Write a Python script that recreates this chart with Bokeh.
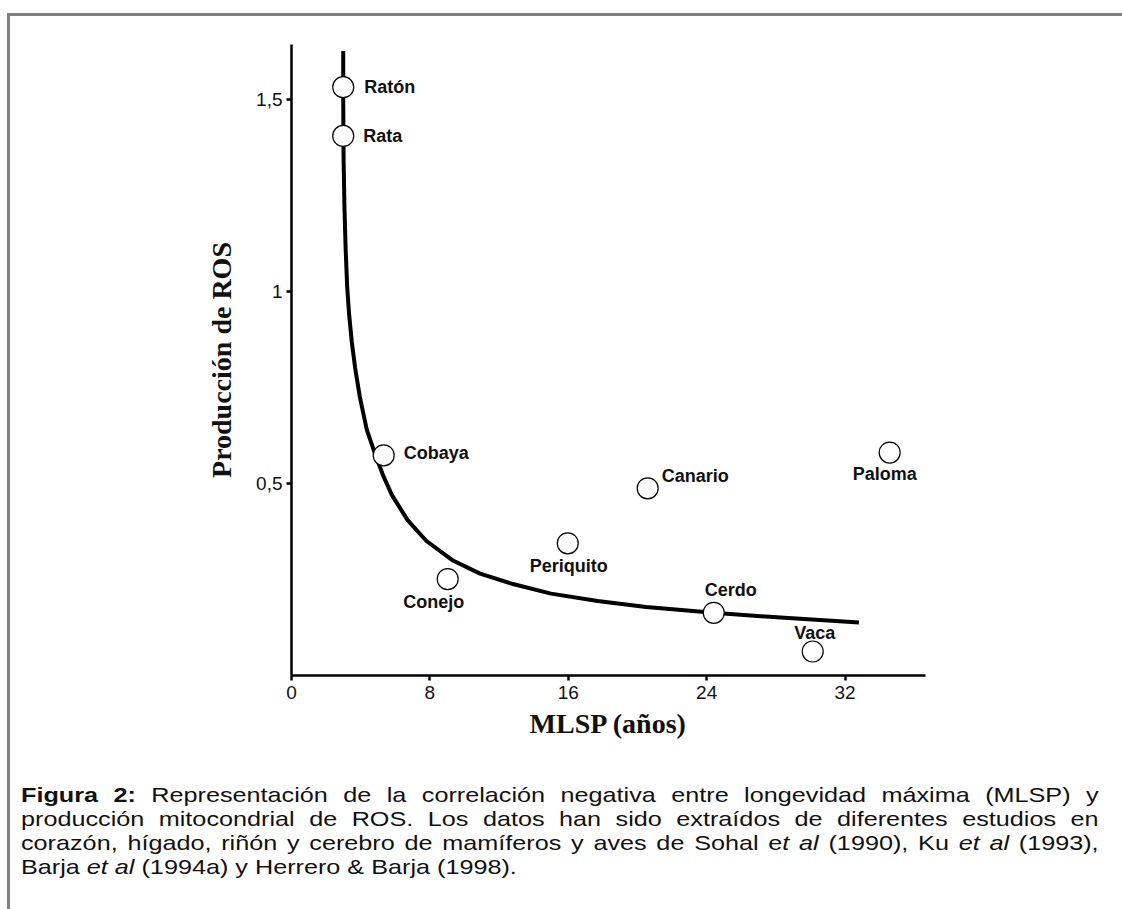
from bokeh.plotting import figure
from bokeh.models import ColumnDataSource, FixedTicker, Div, LabelSet
from bokeh.layouts import column
from bokeh.embed import file_html
from bokeh.resources import INLINE
from bokeh.core.properties import value

# ---- data ----
species = ["Ratón", "Rata", "Cobaya", "Conejo", "Periquito", "Canario", "Cerdo", "Vaca", "Paloma"]
mlsp = [2.99, 2.99, 5.33, 9.03, 15.97, 20.59, 24.41, 30.13, 34.58]
ros = [1.531, 1.404, 0.573, 0.251, 0.344, 0.487, 0.163, 0.0625, 0.580]

# fitted curve as drawn in the figure
curve_x = [2.99, 2.99, 3.01, 3.06, 3.13, 3.22, 3.33, 3.48, 3.68, 3.95, 4.35, 4.86, 5.3, 5.8,
           6.7, 7.8, 9.3, 10.9, 12.8, 15.0, 17.7, 20.5, 24.4, 28.5, 32.8]
curve_y = [1.625, 1.50, 1.35, 1.22, 1.11, 1.01, 0.94, 0.87, 0.80, 0.725, 0.64, 0.573, 0.52, 0.47,
           0.405, 0.350, 0.300, 0.265, 0.238, 0.213, 0.194, 0.178, 0.163, 0.150, 0.138]

x_ticks = [0, 8, 16, 24, 32]
y_ticks = [0.5, 1, 1.5]
y_tick_labels = {0.5: "0,5", 1: "1", 1.5: "1,5"}

# label offsets (screen px) and alignment
lab_dx = [21, 20, 20, -14, 1, 14, 17, 2, -5]
lab_dy = [0, 0, 2, -23, -23, 12, 23, 18, -21]
lab_align = ["left", "left", "left", "center", "center", "left", "center", "center", "center"]

W = 1109
p = figure(width=W, height=750, output_backend="svg", toolbar_location=None,
           x_range=(0, 36.65), y_range=(0, 1.642),
           min_border_left=281, min_border_right=194, min_border_top=28, min_border_bottom=91)
p.grid.visible = False
p.outline_line_color = None
p.background_fill_color = "white"
p.border_fill_color = "white"

p.line(curve_x, curve_y, line_color="black", line_width=4, line_join="round")

src = ColumnDataSource(dict(x=mlsp, y=ros, name=species, dx=lab_dx, dy=lab_dy, align=lab_align))
p.scatter("x", "y", source=src, size=21, fill_color="white", line_color="black", line_width=1.2)
labels = LabelSet(x="x", y="y", text="name", source=src, x_offset="dx", y_offset="dy",
                  text_align="align", text_baseline="middle",
                  text_font=value("Liberation Sans"), text_font_size="18px",
                  text_font_style="bold", text_color="#111111")
p.add_layout(labels)

for ax in (p.xaxis[0], p.yaxis[0]):
    ax.axis_line_width = 2.5
    ax.axis_line_color = "black"
    ax.major_tick_line_width = 2.5
    ax.major_tick_out = 5
    ax.major_tick_in = 0
    ax.minor_tick_line_color = None
    ax.major_label_text_font = "Liberation Sans"
    ax.major_label_text_font_size = "19px"
    ax.major_label_text_color = "#111111"
    ax.axis_label_text_font = "Liberation Serif"
    ax.axis_label_text_font_style = "bold"
    ax.axis_label_text_font_size = "28px"
    ax.axis_label_text_color = "#111111"

p.xaxis.ticker = FixedTicker(ticks=x_ticks)
p.yaxis.ticker = FixedTicker(ticks=y_ticks)
p.yaxis.major_label_overrides = y_tick_labels
p.xaxis.axis_label = "MLSP (años)"
p.yaxis.axis_label = "Producción de ROS"
p.xaxis.major_label_standoff = 5
p.yaxis.major_label_standoff = 4
p.xaxis.axis_label_standoff = 6
p.yaxis.axis_label_standoff = 16

lines = [
    "<b>Figura 2:</b> Representación de la correlación negativa entre longevidad máxima (MLSP) y",
    "producción mitocondrial de ROS. Los datos han sido extraídos de diferentes estudios en",
    "corazón, hígado, riñón y cerebro de mamíferos y aves de Sohal e<i>t al</i> (1990), Ku <i>et al</i> (1993),",
]
last = "Barja <i>et al</i> (1994a) y Herrero &amp; Barja (1998)."
line_style = ("display:block;width:898px;white-space:nowrap;height:24px;"
              "transform:scaleX(1.2);transform-origin:0 0;")
html = "".join(
    f'<div style="{line_style}text-align:justify;text-align-last:justify;">{t}</div>' for t in lines
) + f'<div style="{line_style}text-align:left;">{last}</div>'

cap = Div(text=html, width=W, height=143,
          styles={"font-family": "'Liberation Sans', Arial, sans-serif", "font-size": "21px",
                  "line-height": "24px", "color": "#111111", "padding": "12px 0 0 6px",
                  "box-sizing": "border-box"})

layout = column(p, cap, spacing=0, margin=(13, 0, 0, 7),
                styles={"border-top": "3px solid #808080", "border-left": "3px solid #808080",
                        "border-right": "3px solid #808080"})

open("out.html", "w").write(file_html(layout, INLINE))
